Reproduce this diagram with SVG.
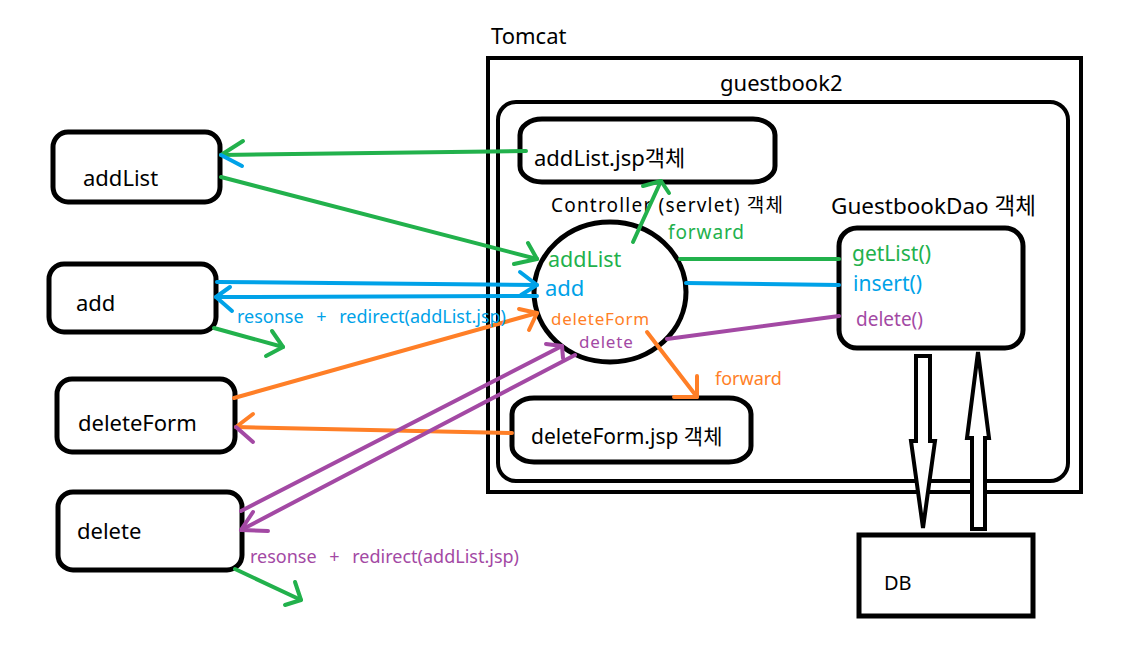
<svg xmlns="http://www.w3.org/2000/svg" width="1125" height="665" viewBox="0 0 1125 665">
<style>
text{font-family:"Noto Sans","Noto Sans CJK KR",sans-serif;fill:#000}
.box{fill:#fff;stroke:#000;stroke-width:5}
.thin{fill:none;stroke:#000;stroke-width:4}
.g{stroke:#22b14c}.b{stroke:#00a2e8}.o{stroke:#ff7f27}.p{stroke:#a349a4}
.c line,.c polyline{fill:none;stroke-width:4;stroke-linecap:round;stroke-linejoin:round}
.tg{fill:#22b14c}.tb{fill:#00a2e8}.to{fill:#ff7f27}.tp{fill:#a349a4}
.ws{word-spacing:8px}
</style>
<rect width="1125" height="665" fill="#fff"/>
<g id="tomcat">
<rect x="488" y="58" width="593" height="434" class="thin"/>
<text x="491" y="44" font-size="22">Tomcat</text>
</g>
<g id="guestbook2">
<rect x="498" y="102" width="570" height="379" rx="18" class="thin"/>
<text x="720" y="91" font-size="22">guestbook2</text>
</g>
<g id="addListJsp">
<rect x="520" y="119" width="255" height="63" rx="22" ry="16" class="box"/>
<text x="534" y="166" font-size="22">addList.jsp객체</text>
</g>
<g id="deleteFormJsp">
<rect x="512" y="398" width="239" height="64" rx="22" ry="16" class="box"/>
<text x="531" y="444" font-size="21">deleteForm.jsp 객체</text>
</g>
<g id="controller">
<ellipse cx="610" cy="292" rx="76" ry="70" class="box"/>
<text x="551" y="212" font-size="19" letter-spacing="1.2">Controller (servlet) 객체</text>
<text x="548" y="267" font-size="21.5" class="tg">addList</text>
<text x="545" y="296" font-size="22" class="tb">add</text>
<text x="551" y="325" font-size="17" letter-spacing="0.7" class="to">deleteForm</text>
<text x="579" y="348" font-size="17" letter-spacing="0.8" class="tp">delete</text>
</g>
<g id="dao">
<rect x="839" y="228" width="184" height="120" rx="18" class="box"/>
<text x="831" y="214" font-size="22.5">GuestbookDao 객체</text>
<text x="852" y="261" font-size="21" class="tg">getList()</text>
<text x="853" y="291" font-size="21" class="tb">insert()</text>
<text x="856" y="326" font-size="19" class="tp">delete()</text>
</g>
<g id="db">
<rect x="859" y="535" width="174" height="81" class="box"/>
<text x="884" y="590" font-size="20">DB</text>
</g>
<g id="addListNode">
<rect x="53" y="132" width="167" height="70" rx="15" class="box"/>
<text x="83" y="186" font-size="22">addList</text>
</g>
<g id="addNode">
<rect x="49" y="264" width="167" height="68" rx="15" class="box"/>
<text x="76" y="311" font-size="22">add</text>
</g>
<g id="deleteFormNode">
<rect x="57" y="379" width="178" height="73" rx="15" class="box"/>
<text x="78" y="431" font-size="22">deleteForm</text>
</g>
<g id="deleteNode">
<rect x="58" y="492" width="184" height="78" rx="15" class="box"/>
<text x="77" y="539" font-size="22">delete</text>
</g>
<g id="connectors" class="c">
<line x1="526" y1="151" x2="221" y2="155" class="g"/>
<line x1="221" y1="155" x2="243" y2="141" class="g"/>
<line x1="221" y1="155" x2="242" y2="166" class="b"/>
<line x1="221" y1="177" x2="537" y2="259" class="g"/>
<polyline points="528,243 537,259 514,264" class="g"/>
<line x1="633" y1="242" x2="661" y2="181" class="g"/>
<polyline points="643,186 661,181 669,193" class="g"/>
<line x1="680" y1="259" x2="839" y2="259" class="g"/>
<line x1="686" y1="283" x2="839" y2="285" class="b"/>
<line x1="667" y1="339" x2="839" y2="316" class="p"/>
<line x1="217" y1="282" x2="537" y2="285" class="b"/>
<polyline points="520,272 537,285 521,295" class="b"/>
<line x1="537" y1="296" x2="216" y2="297" class="b"/>
<polyline points="230,287 216,297 232,311" class="b"/>
<line x1="214" y1="328" x2="283" y2="347" class="g"/>
<polyline points="272,331 283,347 266,356" class="g"/>
<line x1="234" y1="398" x2="537" y2="313" class="o"/>
<polyline points="519,309 537,313 529,330" class="o"/>
<line x1="512" y1="433" x2="236" y2="427" class="o"/>
<line x1="236" y1="427" x2="253" y2="414" class="o"/>
<line x1="236" y1="427" x2="253" y2="442" class="p"/>
<line x1="647" y1="332" x2="697" y2="397" class="o"/>
<polyline points="697,376 697,397 674,397" class="o"/>
<line x1="241" y1="511" x2="562" y2="346" class="p"/>
<polyline points="546,344 562,346 563,358" class="p"/>
<line x1="575" y1="355" x2="241" y2="530" class="p"/>
<polyline points="253,512 241,530 268,531" class="p"/>
<line x1="235" y1="569" x2="301" y2="600" class="g"/>
<polyline points="295,582 301,600 285,605" class="g"/>
<polygon points="916,356 930,356 930,441 935,441 923,528 911,441 916,441" fill="#fff" stroke="#000" stroke-width="4" stroke-linejoin="miter"/>
<polygon points="978,352 989,438 985,438 985,529 972,529 972,438 967,438" fill="#fff" stroke="#000" stroke-width="4" stroke-linejoin="miter"/>
</g>
<g id="labels">
<text x="668" y="239" font-size="19" letter-spacing="0.9" class="tg">forward</text>
<text x="715" y="385" font-size="18" class="to">forward</text>
<text x="237" y="323" font-size="18" class="tb ws">resonse + redirect(addList.jsp)</text>
<text x="250" y="563" font-size="18" class="tp ws">resonse + redirect(addList.jsp)</text>
</g>
</svg>
